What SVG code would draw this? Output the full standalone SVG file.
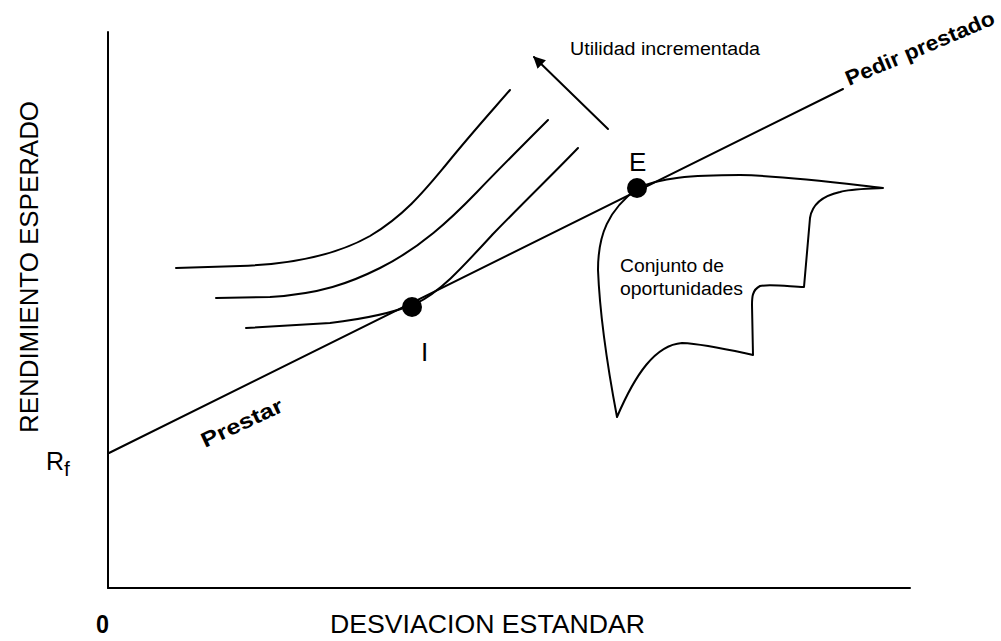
<svg xmlns="http://www.w3.org/2000/svg" width="1001" height="641" viewBox="0 0 1001 641">
<style>
.ln{fill:none;stroke:#000;stroke-width:2;stroke-linecap:round;stroke-linejoin:round}
.t{font-family:"Liberation Sans",Arial,sans-serif;fill:#000}
.b{font-weight:bold}
</style>
<defs>
<marker id="ah" viewBox="0 0 10 10" refX="9" refY="5" markerWidth="6" markerHeight="6" orient="auto" markerUnits="strokeWidth">
<path d="M0,0 L10,5 L0,10 Z" fill="#000"/>
</marker>
</defs>
<rect width="1001" height="641" fill="#fff"/>
<g id="axes">
<line class="ln" x1="108" y1="32" x2="108" y2="588"/>
<line class="ln" x1="108" y1="588" x2="910" y2="588"/>
<text class="t b" x="96" y="633" font-size="26" textLength="13" lengthAdjust="spacingAndGlyphs">0</text>
<text class="t" x="330" y="633" font-size="26" textLength="315" lengthAdjust="spacingAndGlyphs">DESVIACION ESTANDAR</text>
<text class="t" transform="translate(38,433) rotate(-90)" font-size="26" textLength="332" lengthAdjust="spacingAndGlyphs">RENDIMIENTO ESPERADO</text>
<text class="t" x="46" y="470" font-size="25">R<tspan font-size="21" dy="6">f</tspan></text>
</g>
<g id="connectors">
<line class="ln" x1="109" y1="453" x2="843" y2="89"/>
<path class="ln" d="M176,268 L240,266 C300,264 340,253 370,236 C405,215 425,190 445,166 C470,135 490,113 510,90"/>
<path class="ln" d="M216,298 L270,297 C320,294 350,283 380,268 C420,248 450,220 477,192 C500,168 525,143 548,120"/>
<path class="ln" d="M246,328 L330,323 C372,318 395,312 415,304 C440,292 460,270 493,234 C530,196 555,172 578,148"/>
<line class="ln" x1="608" y1="129" x2="534" y2="57" marker-end="url(#ah)"/>
</g>
<g id="opportunity-set">
<path class="ln" d="M638,188 C660,178 690,175 740,175 C790,176 840,183 883,188 C865,189 850,189 840,192 C822,196 812,205 810,218 L804,287 C785,286 768,284 760,286 C752,290 752,298 752,305 L753,355 C730,350 705,344 682,343 C655,345 635,375 617,417 C610,380 600,320 598,270 C598,235 608,210 638,188 Z"/>
<text class="t" x="620" y="272" font-size="18" textLength="104" lengthAdjust="spacingAndGlyphs">Conjunto de</text>
<text class="t" x="620" y="295" font-size="18" textLength="123" lengthAdjust="spacingAndGlyphs">oportunidades</text>
</g>
<g id="point-E">
<circle cx="637" cy="188" r="10" fill="#000"/>
<text class="t" x="629" y="171" font-size="26">E</text>
</g>
<g id="point-I">
<circle cx="412" cy="307" r="10" fill="#000"/>
<text class="t" x="421" y="361" font-size="26">I</text>
</g>
<g id="labels">
<text class="t" x="570" y="55" font-size="18" textLength="190" lengthAdjust="spacingAndGlyphs">Utilidad incrementada</text>
<text class="t b" transform="translate(849,86) rotate(-23)" font-size="21" textLength="160" lengthAdjust="spacingAndGlyphs">Pedir prestado</text>
<text class="t b" transform="translate(205,448) rotate(-25)" font-size="21" textLength="88" lengthAdjust="spacingAndGlyphs">Prestar</text>
</g>
</svg>
